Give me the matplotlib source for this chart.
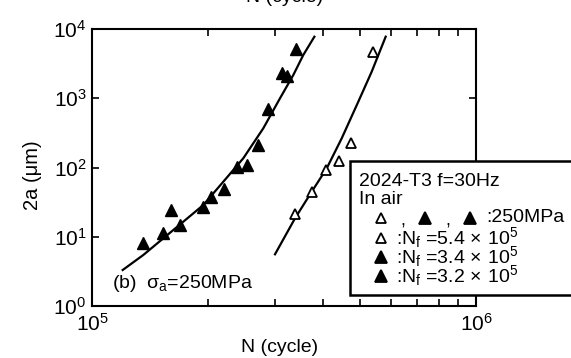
import matplotlib
matplotlib.use("Agg")
import matplotlib.pyplot as plt
from matplotlib.lines import Line2D
from matplotlib.patches import Rectangle
from matplotlib.ticker import LogLocator, NullFormatter

plt.rcParams['font.family'] = ['Liberation Sans', 'DejaVu Sans']
plt.rcParams['font.size'] = 14
plt.rcParams['mathtext.fontset'] = 'custom'
plt.rcParams['mathtext.rm'] = 'Liberation Sans'
plt.rcParams['mathtext.it'] = 'Liberation Sans:italic'
plt.rcParams['mathtext.bf'] = 'Liberation Sans:bold'

# measured crack length 2a (um) vs cycles N
n_filled = [1.36e5, 1.53e5, 1.61e5, 1.70e5, 1.95e5, 2.04e5, 2.21e5,
            2.38e5, 2.54e5, 2.71e5, 2.88e5, 3.13e5, 3.22e5, 3.39e5]
a_filled = [8.2, 11.2, 24.3, 14.8, 26.6, 37.1, 48.9,
            102.7, 108.7, 211, 706, 2291, 2096, 5140]

n_open = [3.38e5, 3.73e5, 4.06e5, 4.40e5, 4.73e5, 5.40e5]
a_open = [21.1, 43.8, 92, 124, 228, 4700]

# fitted growth curves
n_fit1 = [1.202e5, 1.36e5, 1.534e5, 1.729e5, 1.949e5, 2.198e5, 2.477e5,
          2.793e5, 3.087e5, 3.344e5, 3.550e5, 3.794e5]
a_fit1 = [3.31, 5.45, 9.5, 16.5, 28.7, 62.4, 135.8, 368, 998, 2167, 4212, 7740]

n_fit2 = [2.996e5, 3.379e5, 3.734e5, 4.086e5, 4.470e5, 4.937e5, 5.350e5, 5.818e5]
a_fit2 = [5.58, 18.5, 44.7, 97.3, 264, 891, 2417, 7740]

legend_rows = [(r':N$_\mathregular{f}$ =5.4$\,\times\,$10$^\mathregular{5}$', 'white'),
               (r':N$_\mathregular{f}$ =3.4$\,\times\,$10$^\mathregular{5}$', 'black'),
               (r':N$_\mathregular{f}$ =3.2$\,\times\,$10$^\mathregular{5}$', 'black')]

W, H = 571, 358
fig = plt.figure(figsize=(W / 100, H / 100), dpi=100)
ax = fig.add_axes([92 / W, 1 - 306 / H, 384 / W, 277 / H])

ax.plot(n_fit1, a_fit1, color='black', lw=1.6)
ax.plot(n_fit2, a_fit2, color='black', lw=1.6)
ax.plot(n_filled, a_filled, '^', color='black', ms=8, ls='none')
ax.plot(n_open, a_open, '^', mfc='white', mec='black', mew=1.3, ms=6.5, ls='none')

ax.set_xscale('log')
ax.set_yscale('log')
ax.set_xlim(1e5, 1e6)
ax.set_ylim(1, 1e4)
ax.yaxis.set_minor_locator(LogLocator(base=10, subs=[]))
ax.xaxis.set_minor_formatter(NullFormatter())
ax.tick_params(which='both', direction='in', top=True, right=True, length=5, width=1.2,
               labelsize=15)
ax.tick_params(axis='x', pad=5)
ax.tick_params(axis='y', pad=4)
for s in ax.spines.values():
    s.set_linewidth(1.5)

fig.text(112 / W, 1 - 283 / H, '(b)  σ$_\mathregular{a}$=250MPa', va='center', fontsize=14)

fig.text(280 / W, 1 - 352 / H, 'N (cycle)', ha='center', va='baseline', fontsize=14)
# bottom of the panel above, cut off at the top edge
fig.text(285 / W, 1 - 1.5 / H, 'N (cycle)', ha='center', va='baseline', fontsize=14)
fig.text(33 / W, 1 - 175 / H, '2a (μm)', ha='center', va='center', rotation=90, fontsize=14.5)

# legend box
box = Rectangle((350 / W, 1 - 295 / H), 260 / W, 134 / H, transform=fig.transFigure,
                facecolor='white', edgecolor='black', lw=1.8, zorder=5)
fig.add_artist(box)
fig.text(359 / W, 1 - 181 / H, '2024-T3 f=30Hz', va='center', fontsize=14, zorder=6)
fig.text(359 / W, 1 - 200 / H, 'In air', va='center', fontsize=14, zorder=6)


def sym(x, y, fc):
    fig.add_artist(Line2D([x / W], [1 - y / H], transform=fig.transFigure, marker='^',
                          mfc=fc, mec='black', mew=1.3, ms=7 if fc == 'white' else 8,
                          ls='none', zorder=6))


sym(381, 218, 'white')
sym(425, 218, 'black')
sym(470, 218, 'black')
fig.text(403 / W, 1 - 226 / H, ',', ha='center', va='baseline', fontsize=13, zorder=6)
fig.text(448 / W, 1 - 226 / H, ',', ha='center', va='baseline', fontsize=13, zorder=6)
fig.text(486 / W, 1 - 218 / H, ':250MPa', va='center', fontsize=14, zorder=6)
for i, (label, fc) in enumerate(legend_rows):
    y = 238 + 19 * i
    sym(381, y, fc)
    fig.text(396 / W, 1 - y / H, label, va='center', fontsize=14, zorder=6)

fig.savefig('out.png', dpi=100)
